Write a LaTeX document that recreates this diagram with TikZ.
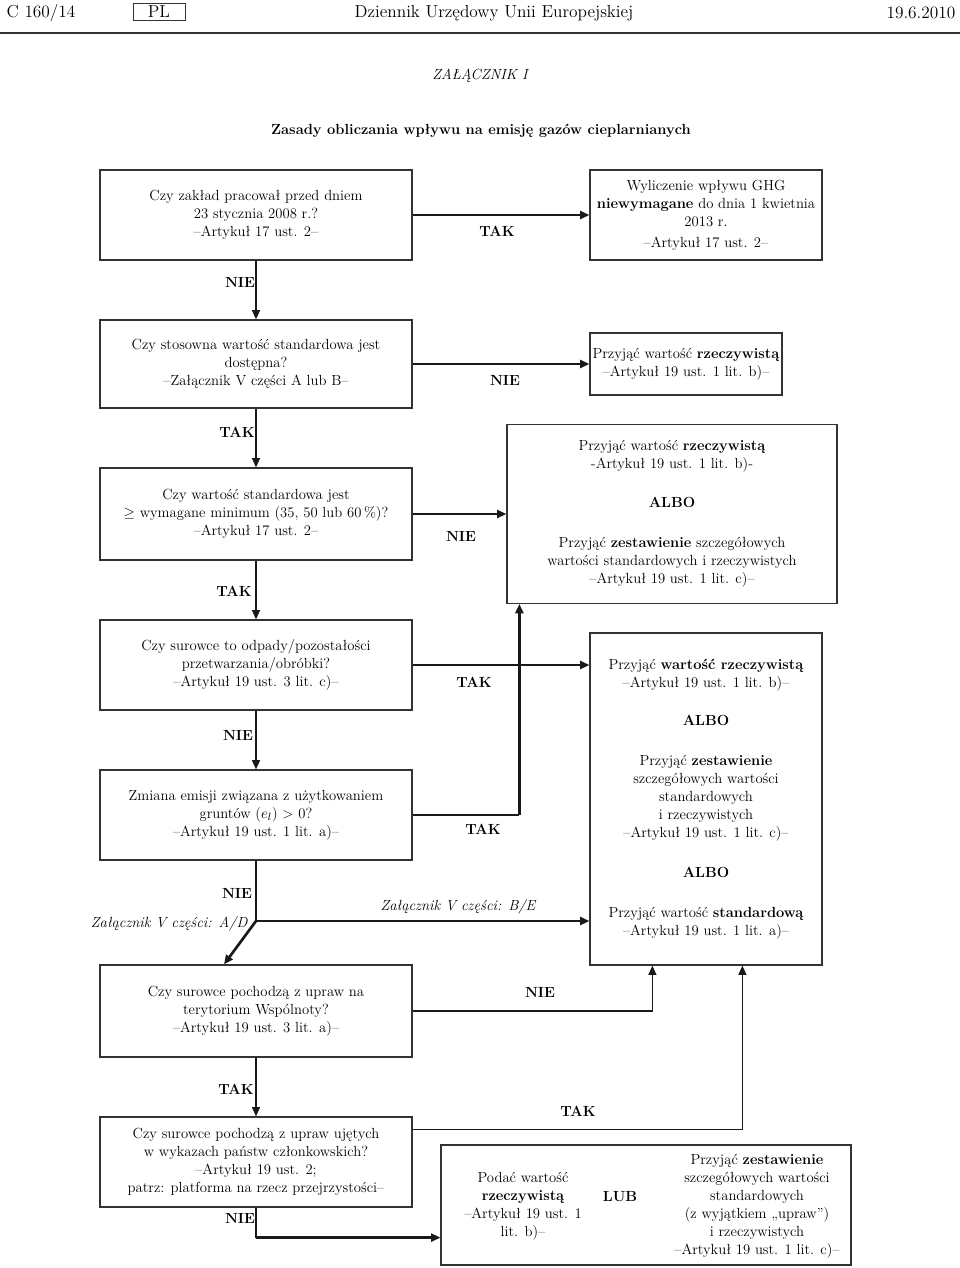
\documentclass[tikz,border=0pt]{standalone}
\usepackage{fontspec}
\usepackage{tikz}
\usetikzlibrary{positioning,calc,arrows.meta}
\newcommand{\boxfont}{\fontsize{11}{13.5}\selectfont}
\newcommand{\headfont}{\fontsize{13}{15}\selectfont}
\tikzset{
  qbox/.style  = {draw=black!80, line width=0.9pt, fill=white, align=center,
                  minimum width=234pt, inner sep=1.5pt, font=\boxfont},
  txt/.style   = {align=center, inner sep=1pt, font=\boxfont},
  lbl/.style   = {inner sep=1pt, font=\boxfont\bfseries},
  ilbl/.style  = {inner sep=1pt, font=\boxfont\itshape},
  head/.style  = {inner sep=1pt, font=\headfont},
  flow/.style  = {line width=1pt, draw=black!90, -{Triangle[length=7pt,width=6pt]}},
  flowb/.style = {flow, line width=2pt},
}
\begin{document}
\begin{tikzpicture}[x=0.75pt,y=-0.75pt]
  \useasboundingbox (0,0) rectangle (960,1268);
  % page head
  \node[head, anchor=west] (nr) at (5,13) {C 160/14};
  \node[head, draw=black!80, line width=0.6pt, minimum width=39pt, minimum height=13pt] (jez) at (159,12) {PL};
  \node[head] (dz) at (494,13) {Dziennik Urzędowy Unii Europejskiej};
  \node[head, anchor=east] (data) at (957,13) {19.6.2010};
  \draw[line width=1.5pt, black!80] (0,33) -- (960,33);
  \node[ilbl] (zal) at (480,76) {ZAŁĄCZNIK I};
  \node[lbl] (tytul) at (481,131) {Zasady obliczania wpływu na emisję gazów cieplarnianych};
  % left column: questions
  \node[qbox, minimum height=67.5pt] (zaklad) at (256,215)
    {Czy zakład pracował przed dniem\\23 stycznia 2008 r.?\\–Artykuł 17 ust. 2–};
  \node[qbox, minimum height=66pt] (stosowna) at (256,364)
    {Czy stosowna wartość standardowa jest\\dostępna?\\–Załącznik V części A lub B–};
  \node[qbox, minimum height=69pt] (minimum) at (256,514)
    {Czy wartość standardowa jest\\$\geq$ wymagane minimum (35, 50 lub 60\,\%)?\\–Artykuł 17 ust. 2–};
  \node[qbox, minimum height=67.5pt] (odpady) at (256,665)
    {Czy surowce to odpady/pozostałości\\przetwarzania/obróbki?\\–Artykuł 19 ust. 3 lit. c)–};
  \node[qbox, minimum height=67.5pt] (ziemia) at (256,815)
    {Zmiana emisji związana z użytkowaniem\\gruntów ($e_l$) > 0?\\–Artykuł 19 ust. 1 lit. a)–};
  \node[qbox, minimum height=69pt] (uprawy) at (256,1011)
    {Czy surowce pochodzą z upraw na\\terytorium Wspólnoty?\\–Artykuł 19 ust. 3 lit. a)–};
  \node[qbox, minimum height=67.5pt] (wykazy) at (256,1162)
    {Czy surowce pochodzą z upraw ujętych\\w wykazach państw członkowskich?\\–Artykuł 19 ust. 2;\\patrz: platforma na rzecz przejrzystości–};
  % right column: results
  \node[qbox, minimum width=174pt, minimum height=67.5pt] (wylicz) at (706,215)
    {Wyliczenie wpływu GHG\\\textbf{niewymagane} do dnia 1 kwietnia\\2013 r.\\[2pt]–Artykuł 17 ust. 2–};
  \node[qbox, minimum width=144pt, minimum height=46.5pt] (rzecz) at (686,364)
    {Przyjąć wartość \textbf{rzeczywistą}\\–Artykuł 19 ust. 1 lit. b)–};
  \node[qbox, minimum width=247.5pt, minimum height=134pt] (albo1) at (672,514)
    {Przyjąć wartość \textbf{rzeczywistą}\\-Artykuł 19 ust. 1 lit. b)-\\[15.5pt]
     \textbf{ALBO}\\[17pt]
     Przyjąć \textbf{zestawienie} szczegółowych\\wartości standardowych i rzeczywistych\\–Artykuł 19 ust. 1 lit. c)–};
  \node[qbox, minimum width=174pt, minimum height=249pt] (wybor) at (706,799)
    {Przyjąć \textbf{wartość rzeczywistą}\\–Artykuł 19 ust. 1 lit. b)–\\[15pt]
     \textbf{ALBO}\\[17pt]
     Przyjąć \textbf{zestawienie}\\szczegółowych wartości\\standardowych\\i rzeczywistych\\–Artykuł 19 ust. 1 lit. c)–\\[16.5pt]
     \textbf{ALBO}\\[16.5pt]
     Przyjąć wartość \textbf{standardową}\\–Artykuł 19 ust. 1 lit. a)–};
  \node[qbox, minimum width=307.5pt, minimum height=90pt] (podsum) at (646,1205) {};
  \node[txt] (podaj) at (523,1206)
    {Podać wartość\\\textbf{rzeczywistą}\\–Artykuł 19 ust. 1\\lit. b)–};
  \node[lbl] (lub) at (620,1197) {LUB};
  \node[txt] (zest) at (757,1206)
    {Przyjąć \textbf{zestawienie}\\szczegółowych wartości\\standardowych\\(z wyjątkiem „upraw”)\\i rzeczywistych\\–Artykuł 19 ust. 1 lit. c)–};
  % connectors
  \draw[flowb] (zaklad) -- (wylicz);
  \draw[flow] (zaklad) -- (stosowna);
  \draw[flowb] (stosowna) -- (rzecz);
  \draw[flow] (stosowna) -- (minimum);
  \draw[flowb] (minimum) -- (albo1);
  \draw[flow] (minimum) -- (odpady);
  \draw[flowb] (odpady) -- (odpady -| wybor.west);
  \draw[flow] (odpady) -- (ziemia);
  \coordinate (rog1) at ($(albo1.south west)+(13,0)$);
  \draw[flow,-] (ziemia) -- (ziemia -| rog1);
  \draw[flowb] (ziemia -| rog1) -- (rog1);
  \coordinate (rozw) at (256,921);
  \draw[flow,-] (ziemia) -- (rozw);
  \draw[flowb] (rozw) -- (rozw -| wybor.west);
  \draw[flowb] (rozw) -- ($(uprawy.north)+(-32,0)$);
  \draw[flow] (uprawy) -| ($(wybor.south west)+(63,0)$);
  \draw[flow] (uprawy) -- (wykazy);
  \draw[flow] ($(wykazy.north east)+(0,13)$) -| ($(wybor.south west)+(153,0)$);
  \coordinate (rog2) at ($(podsum.south west)+(0,-28)$);
  \draw[flow,-] (wykazy) -- (wykazy |- rog2);
  \draw[flowb] (wykazy |- rog2) -- (rog2);
  % labels
  \node[lbl] at (497,231) {TAK};
  \node[lbl] at (240,282) {NIE};
  \node[lbl] at (505,380) {NIE};
  \node[lbl] at (237,432) {TAK};
  \node[lbl] at (461,536) {NIE};
  \node[lbl] at (234,591) {TAK};
  \node[lbl] at (474,682) {TAK};
  \node[lbl] at (238,735) {NIE};
  \node[lbl] at (483,829) {TAK};
  \node[lbl] at (237,893) {NIE};
  \node[ilbl, anchor=east] at (249,924) {Załącznik V części: A/D};
  \node[ilbl] at (458,907) {Załącznik V części: B/E};
  \node[lbl] at (540,992) {NIE};
  \node[lbl] at (236,1089) {TAK};
  \node[lbl] at (578,1111) {TAK};
  \node[lbl] at (240,1218) {NIE};
\end{tikzpicture}
\end{document}
